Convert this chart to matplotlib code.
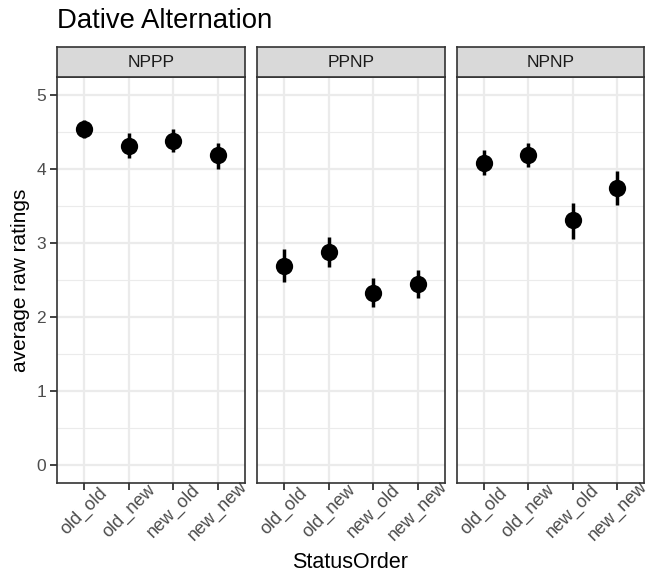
import numpy as np
import matplotlib
matplotlib.use("Agg")
import matplotlib.pyplot as plt
import matplotlib.transforms as mtransforms

plt.rcParams['font.family'] = ['Liberation Sans', 'DejaVu Sans']

# data
panels = ["NPPP", "PPNP", "NPNP"]
categories = ["old_old", "old_new", "new_old", "new_new"]
means = {
    "NPPP": [4.55, 4.32, 4.38, 4.19],
    "PPNP": [2.69, 2.88, 2.33, 2.45],
    "NPNP": [4.09, 4.20, 3.31, 3.74],
}
lower = {
    "NPPP": [4.43, 4.15, 4.23, 4.01],
    "PPNP": [2.47, 2.68, 2.14, 2.26],
    "NPNP": [3.92, 4.03, 3.05, 3.51],
}
upper = {
    "NPPP": [4.67, 4.49, 4.54, 4.35],
    "PPNP": [2.92, 3.08, 2.53, 2.64],
    "NPNP": [4.26, 4.36, 3.54, 3.97],
}

W, H = 648, 573
fig = plt.figure(figsize=(W / 100, H / 100), dpi=100)

panel_x = [(57, 245), (257, 445), (457, 644)]
top, bottom = 77, 483
strip_h = 30

x = np.arange(1, len(categories) + 1)
shift = mtransforms.ScaledTranslation(3 / 100, 0, fig.dpi_scale_trans)
for i, name in enumerate(panels):
    x0, x1 = panel_x[i]
    ax = fig.add_axes([x0 / W, 1 - bottom / H, (x1 - x0) / W, (bottom - top) / H])
    m = np.array(means[name])
    lo = np.array(lower[name])
    hi = np.array(upper[name])
    ax.vlines(x, lo, hi, color="black", lw=2.5, zorder=3)
    ax.scatter(x, m, s=155, color="black", zorder=4, linewidths=0)
    ax.set_xlim(0.4, 4.6)
    ax.set_ylim(-0.25, 5.25)
    ax.set_xticks(x)
    ax.set_xticklabels(categories, rotation=45, ha="center", va="center",
                       rotation_mode="anchor", color="#4d4d4d", fontsize=13)
    for lab in ax.get_xticklabels():
        lab.set_transform(lab.get_transform() + shift)
    ax.set_yticks(range(6))
    ax.set_yticks(np.arange(0.5, 5.0, 1.0), minor=True)
    ax.grid(True, which="major", color="#ebebeb", lw=1.6)
    ax.grid(True, which="minor", axis="y", color="#ebebeb", lw=0.8)
    ax.set_axisbelow(True)
    ax.tick_params(axis="both", which="major", length=5, width=1.3,
                   color="#333333", pad=3)
    ax.tick_params(axis="x", which="major", pad=15.5)
    ax.tick_params(axis="both", which="minor", length=0)
    for s in ax.spines.values():
        s.set_color("#333333")
        s.set_linewidth(1.2)
    if i == 0:
        ax.set_yticklabels([str(v) for v in range(6)], color="#4d4d4d", fontsize=12.5)
    else:
        ax.set_yticklabels([])
        ax.tick_params(axis="y", length=0)
    # facet strip
    sax = fig.add_axes([x0 / W, 1 - top / H, (x1 - x0) / W, strip_h / H])
    sax.set_xticks([])
    sax.set_yticks([])
    sax.set_facecolor("#d9d9d9")
    for s in sax.spines.values():
        s.set_color("#333333")
        s.set_linewidth(1.2)
    sax.text(0.5, 0.5, name, ha="center", va="center", fontsize=12.5,
             color="#1a1a1a", transform=sax.transAxes)

fig.text(57 / W, 1 - 21 / H, "Dative Alternation", fontsize=19.8, ha="left", va="center")
fig.text(21 / W, 1 - 280 / H, "average raw ratings", fontsize=15, rotation=90,
         ha="center", va="center")
fig.text(350 / W, 1 - 563 / H, "StatusOrder", fontsize=15.5, ha="center", va="center")

fig.savefig("out.png", dpi=100)
